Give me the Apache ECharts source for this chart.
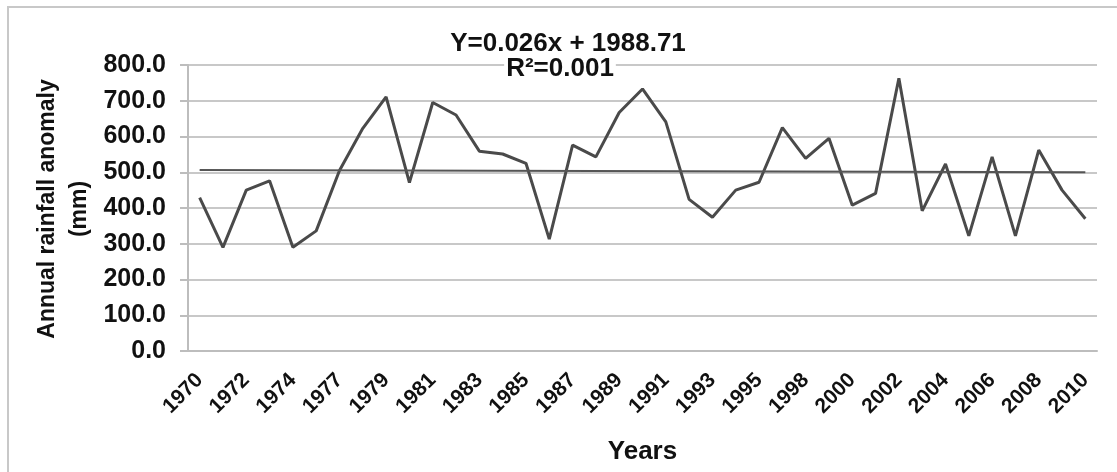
<!DOCTYPE html>
<html><head><meta charset="utf-8">
<script src="https://cdn.jsdelivr.net/npm/echarts@6/dist/echarts.min.js"></script>
<style>html,body{margin:0;padding:0;background:#fff}#c{width:1117px;height:472px}</style>
</head><body><div id="c"></div>
<script>
const years = [1970,1971,1972,1973,1974,1975,1977,1978,1979,1980,1981,1982,1983,1984,1985,1986,1987,1988,1989,1990,1991,1992,1993,1994,1995,1996,1998,1999,2000,2001,2002,2003,2004,2005,2006,2007,2008,2009,2010];
const rainfall = [429,290,450,476,290,336,505,623,711,471,695,660,559,551,525,313,576,543,667,733,641,424,374,450,472,625,539,595,408,441,763,392,523,322,543,322,562,450,370];
const trendEnds = [506, 500];
const yTicks = [0,100,200,300,400,500,600,700,800];
const equationText = ['Y=0.026x + 1988.71', 'R²=0.001'];
const yTitle = ['Annual rainfall anomaly', '(mm)'];
const xTitle = 'Years';

const FONT = '"Liberation Sans", Arial, sans-serif';
const chart = echarts.init(document.getElementById('c'));
chart.setOption({
  animation: false,
  backgroundColor: '#fff',
  grid: { left: 188, right: 20, top: 65, bottom: 121, containLabel: false },
  graphic: [
    { type: 'rect', shape: { x: 8, y: 7, width: 1130, height: 480 }, style: { fill: 'none', stroke: '#c8c8c8', lineWidth: 2 }, z: -1 },
    { type: 'text', x: 568, y: 44, z: 100, style: { text: equationText[0], font: 'bold 26px ' + FONT, fill: '#111', align: 'center', verticalAlign: 'middle' } },
    { type: 'text', x: 560, y: 69, z: 100, style: { text: equationText[1], font: 'bold 26px ' + FONT, fill: '#111', align: 'center', verticalAlign: 'middle', backgroundColor: '#fff', padding: [0, 2] } },
    { type: 'text', x: 48, y: 209, rotation: Math.PI / 2, style: { text: yTitle[0], font: 'bold 23px ' + FONT, fill: '#111', align: 'center', verticalAlign: 'middle' } },
    { type: 'text', x: 80, y: 209, rotation: Math.PI / 2, style: { text: yTitle[1], font: 'bold 23px ' + FONT, fill: '#111', align: 'center', verticalAlign: 'middle' } }
  ],
  xAxis: {
    type: 'category',
    data: years.map(String),
    boundaryGap: true,
    name: xTitle,
    nameLocation: 'middle',
    nameGap: 88,
    nameTextStyle: { fontFamily: FONT, fontWeight: 'bold', fontSize: 26, color: '#111' },
    axisLine: { show: true, lineStyle: { color: '#bdbdbd', width: 2 } },
    axisTick: { show: false },
    axisLabel: { interval: 1, rotate: 45, margin: 26, fontFamily: FONT, fontWeight: 'bold', fontSize: 21, color: '#111' },
    splitLine: { show: false }
  },
  yAxis: {
    type: 'value',
    min: yTicks[0],
    max: yTicks[yTicks.length - 1],
    interval: 100,
    axisLine: { show: true, lineStyle: { color: '#bdbdbd', width: 2 } },
    axisTick: { show: true, length: 8, lineStyle: { color: '#bdbdbd', width: 2 } },
    axisLabel: { margin: 22, fontFamily: FONT, fontWeight: 'bold', fontSize: 25, color: '#111', formatter: v => v.toFixed(1) },
    splitLine: { show: true, lineStyle: { color: '#c8c8c8', width: 2 } }
  },
  series: [
    {
      type: 'line',
      data: rainfall,
      symbol: 'none',
      lineStyle: { color: '#4a4a4a', width: 3 },
      markLine: {
        silent: true,
        symbol: 'none',
        label: { show: false },
        lineStyle: { color: '#555', width: 2, type: 'solid' },
        data: [[ { coord: [String(years[0]), trendEnds[0]] }, { coord: [String(years[years.length - 1]), trendEnds[1]] } ]]
      }
    }
  ]
});
</script></body></html>
